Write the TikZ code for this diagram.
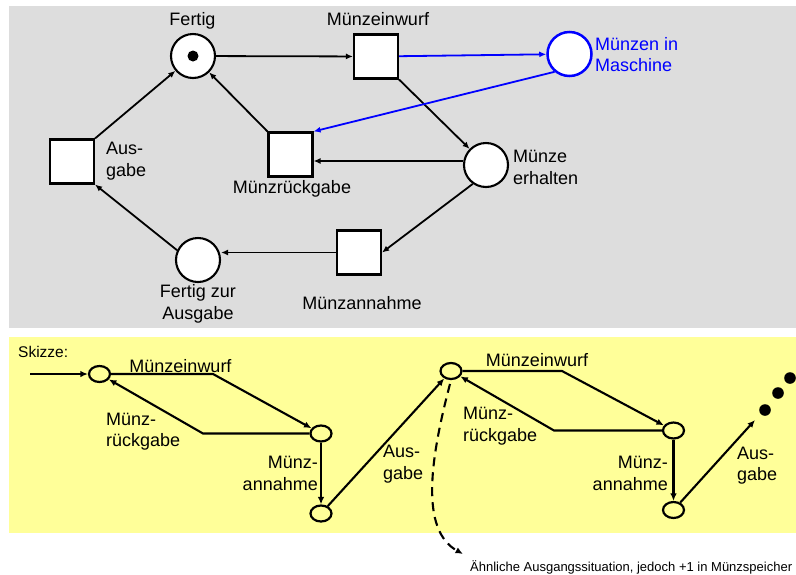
\documentclass[tikz,border=0pt]{standalone}
\usepackage{fontspec}
\setmainfont{Liberation Sans}
\usetikzlibrary{arrows.meta,shapes.geometric}

\definecolor{panelgray}{RGB}{221,221,221}
\definecolor{sketchyellow}{RGB}{255,255,153}
\definecolor{netblue}{RGB}{0,0,255}

\tikzset{
  place/.style={circle,draw=black,fill=white,line width=2.1pt,minimum size=44pt},
  transition/.style={rectangle,draw=black,fill=white,line width=2.1pt,minimum size=44pt},
  spot/.style={ellipse,draw=black,line width=2.2pt,minimum width=21pt,minimum height=16pt},
  arc/.style={line width=1.8pt,-{Latex[length=7pt,width=6pt]}},
  sketcharc/.style={line width=2.1pt,-{Latex[length=7.5pt,width=6.5pt]}},
  txt/.style={font=\fontsize{18}{21.5}\selectfont,align=left},
}

\begin{document}
\begin{tikzpicture}[x=10pt,y=10pt]
\tikzstyle{every node}+=[inner sep=0pt]
\useasboundingbox (0,0) rectangle (79.6,-57.4);
\fill [panelgray] (0.9,-0.6) rectangle (79.6,-32.8);
\fill [sketchyellow] (0.9,-33.7) rectangle (79.6,-53.3);

% Petri net of the vending machine
\node [place] (fertig) at (19.3,-5.6) {};
\fill [black] (fertig) circle (5.5pt);
\node [transition] (einwurf) at (37.6,-5.65) {};
\node [place,draw=netblue,line width=2.5pt] (maschine) at (56.95,-5.4) {};
\node [place] (erhalten) at (48.6,-16.5) {};
\node [transition] (rueckgabe) at (29.05,-15.45) {};
\node [transition] (ausgabe) at (7.2,-16.15) {};
\node [place] (bereit) at (19.8,-26.0) {};
\node [transition] (annahme) at (35.9,-25.25) {};

\node [txt] (fertig-lbl) at (19.25,-2.05) {Fertig};
\node [txt] (einwurf-lbl) at (37.8,-1.95) {Münzeinwurf};
\node [txt,text=netblue,anchor=west] (maschine-lbl) at (59.5,-5.45) {Münzen in\\Maschine};
\node [txt,anchor=west] (erhalten-lbl) at (51.3,-16.75) {Münze\\erhalten};
\node [txt] (rueckgabe-lbl) at (29.2,-18.9) {Münzrückgabe};
\node [txt,anchor=west] (ausgabe-lbl) at (10.6,-16.1) {Aus-\\gabe};
\node [txt,align=center] (bereit-lbl) at (19.8,-30.4) {Fertig zur\\Ausgabe};
\node [txt] (annahme-lbl) at (36.2,-30.3) {Münzannahme};

\draw [arc] (fertig) -- (einwurf);
\draw [arc,draw=netblue,fill=netblue] (einwurf) -- (maschine);
\draw [arc] (einwurf.south east) -- (erhalten);
\draw [arc,draw=netblue,fill=netblue] (maschine.-130) -- (rueckgabe.north east);
\draw [arc] (erhalten.170) -- (erhalten.170 -| rueckgabe.east);
\draw [arc] (rueckgabe.north west) -- (fertig);
\draw [arc] (erhalten.-125) -- (annahme.east);
\draw [arc] (annahme.west) -- (annahme.west -| bereit.east);
\draw [arc] (bereit.155) -- (ausgabe.south east);
\draw [arc] (ausgabe.north east) -- (fertig);

% sketch of the state sequence
\node [txt,font=\fontsize{15.5}{18}\selectfont,anchor=west] (skizze) at (1.8,-35.2) {Skizze:};

\coordinate (start) at (3.0,-37.4);
\node [spot] (s1) at (9.95,-37.4) {};
\node [spot] (s2) at (32.1,-43.35) {};
\node [spot] (s3) at (32.1,-51.35) {};
\node [spot] (s4) at (45.1,-37.1) {};
\node [spot] (s5) at (67.35,-43.05) {};
\node [spot] (s6) at (67.35,-51.0) {};
\coordinate (k1) at (21.3,-37.4);
\coordinate (k2) at (20.3,-43.35);
\coordinate (k3) at (56.2,-37.1);
\coordinate (k4) at (55.4,-43.05);
\coordinate (weiter) at (75.5,-42.0);

\draw [sketcharc] (start) -- (s1);
\draw [sketcharc] (s1) -- (k1) -- (s2);
\draw [sketcharc] (s2) -- (k2) -- (s1);
\draw [sketcharc] (s2) -- (s3);
\draw [sketcharc] (s3) -- (s4);
\draw [sketcharc] (s4) -- (k3) -- (s5);
\draw [sketcharc] (s5) -- (k4) -- (s4);
\draw [sketcharc] (s5) -- (s6);
\draw [sketcharc] (s6) -- (weiter);
\fill [black] (76.5,-41.0) circle (5.8pt);
\fill [black] (77.8,-39.3) circle (5.8pt);
\fill [black] (79.0,-37.8) circle (5.8pt);

\node [txt] (einwurf1-lbl) at (18.05,-36.65) {Münzeinwurf};
\node [txt,anchor=west] (rueck1-lbl) at (10.6,-43.15) {Münz-\\rückgabe};
\node [txt,align=right,anchor=east] (annahme1-lbl) at (31.8,-47.35) {Münz-\\annahme};
\node [txt,anchor=west] (ausgabe1-lbl) at (38.3,-46.4) {Aus-\\gabe};
\node [txt] (einwurf2-lbl) at (53.7,-36.0) {Münzeinwurf};
\node [txt,anchor=west] (rueck2-lbl) at (46.3,-42.6) {Münz-\\rückgabe};
\node [txt,align=right,anchor=east] (annahme2-lbl) at (66.8,-47.35) {Münz-\\annahme};
\node [txt,anchor=west] (ausgabe2-lbl) at (73.7,-46.55) {Aus-\\gabe};

\coordinate (hinweis-pfeil) at (46.3,-55.4);
\draw [sketcharc,dash pattern=on 9pt off 6pt,shorten <=4pt]
  (s4.south) .. controls (43.0,-46) and (42.0,-53) .. (hinweis-pfeil);
\node [anchor=west,font=\fontsize{13}{15}\selectfont] (hinweis) at (47.0,-56.7)
  {Ähnliche Ausgangssituation, jedoch +1 in Münzspeicher};
\end{tikzpicture}
\end{document}
